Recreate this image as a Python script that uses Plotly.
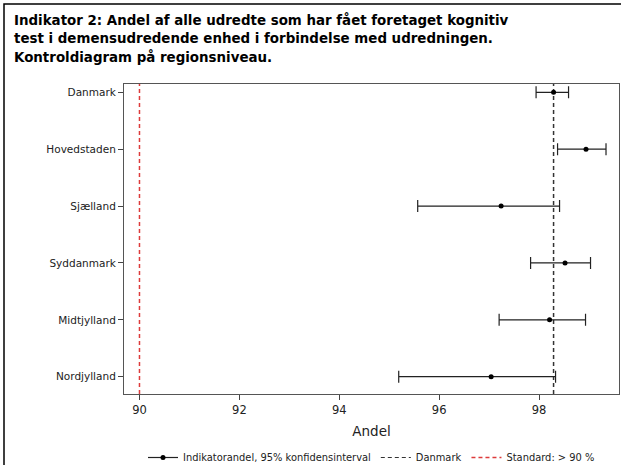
import plotly.graph_objects as go

regions = ["Danmark", "Hovedstaden", "Sjælland", "Syddanmark", "Midtjylland", "Nordjylland"]
andel = [98.29, 98.94, 97.24, 98.52, 98.21, 97.04]
ci_lower = [97.94, 98.37, 95.57, 97.83, 97.20, 95.19]
ci_upper = [98.59, 99.34, 98.41, 99.03, 98.93, 98.33]
standard = 90
xticks = [90, 92, 94, 96, 98]

title_lines = ["Indikator 2: Andel af alle udredte som har fået foretaget kognitiv",
               "test i demensudredende enhed i forbindelse med udredningen.",
               "Kontroldiagram på regionsniveau."]

danmark_value = andel[regions.index("Danmark")]

W, H = 621, 465
ML, MR, MT, MB = 124, 2, 84, 71
PW, PH = W - ML - MR, H - MT - MB
RED = "#dd3b3b"

fig = go.Figure()

fig.add_trace(go.Scatter(
    x=andel, y=regions, mode="markers",
    marker=dict(color="black", size=5),
    error_x=dict(type="data", symmetric=False,
                 array=[u - a for u, a in zip(ci_upper, andel)],
                 arrayminus=[a - l for a, l in zip(andel, ci_lower)],
                 color="#222222", thickness=1.2, width=6),
    showlegend=False, hoverinfo="x+y",
))

# legend entries
fig.add_trace(go.Scatter(x=[None], y=[None], mode="lines+markers",
                         line=dict(color="#222222", width=1.2),
                         marker=dict(color="black", size=5),
                         name="Indikatorandel, 95% konfidensinterval"))
fig.add_trace(go.Scatter(x=[None], y=[None], mode="lines",
                         line=dict(color="#333333", width=1.2, dash="4px,3px"),
                         name="Danmark"))
fig.add_trace(go.Scatter(x=[None], y=[None], mode="lines",
                         line=dict(color=RED, width=1.3, dash="4px,3px"),
                         name="Standard: > 90 %"))

# reference lines
fig.add_shape(type="line", xref="x", yref="paper", x0=danmark_value, x1=danmark_value,
              y0=0, y1=1, line=dict(color="#333333", width=1.5, dash="4px,3px"), layer="below")
fig.add_shape(type="line", xref="x", yref="paper", x0=standard, x1=standard,
              y0=0, y1=1, line=dict(color=RED, width=1.5, dash="4px,3px"), layer="below")

# outer frame
fig.add_shape(type="rect", xref="paper", yref="paper",
              x0=(4 - ML) / PW, x1=1.2, y0=-0.5, y1=1 + (MT - 4) / PH,
              line=dict(color="black", width=1.5), fillcolor="rgba(0,0,0,0)")

# title lines
for i, (line, ypx) in enumerate(zip(title_lines, [20, 38.5, 57])):
    fig.add_annotation(text=line, xref="paper", yref="paper",
                       x=(12 - ML) / PW, xanchor="left",
                       y=1 + (MT - ypx) / PH, yanchor="middle",
                       showarrow=False,
                       font=dict(family="DejaVu Sans", size=13.4, weight="bold", color="black"))

fig.update_layout(
    width=W, height=H,
    margin=dict(l=ML, r=MR, t=MT, b=MB, autoexpand=False),
    paper_bgcolor="white", plot_bgcolor="white",
    font=dict(family="DejaVu Sans", color="black"),
    xaxis=dict(range=[89.69, 99.6], tickvals=xticks, ticks="outside", ticklen=5,
               tickcolor="#444", showline=True, linecolor="#555", linewidth=1.2, mirror=True,
               showgrid=False, zeroline=False,
               tickfont=dict(size=11.5, family="DejaVu Sans", color="#222"),
               title=dict(text="Andel", font=dict(size=13.5, family="DejaVu Sans", color="#222"),
                          standoff=10)),
    yaxis=dict(type="category", categoryarray=regions, range=[5.304, -0.146],
               ticks="outside", ticklen=5, tickcolor="#444", showline=True,
               linecolor="#555", linewidth=1.2, mirror=True, showgrid=False,
               tickfont=dict(size=10.5, family="DejaVu Sans", color="#222")),
    legend=dict(orientation="h", x=0.5, xanchor="center", y=-(443 - 394) / PH, yanchor="top",
                font=dict(size=9.9, family="DejaVu Sans", color="#222"),
                itemwidth=30, bgcolor="rgba(0,0,0,0)"),
)

fig.write_html("out.html")
